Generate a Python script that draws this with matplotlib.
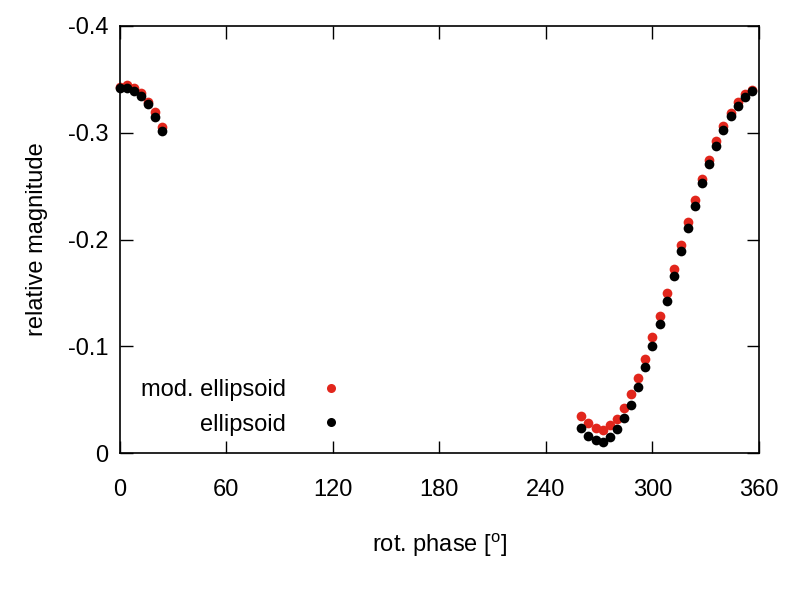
import matplotlib
matplotlib.use("Agg")
import matplotlib.pyplot as plt
from matplotlib.lines import Line2D

plt.rcParams['font.family'] = ['Liberation Sans', 'DejaVu Sans']
plt.rcParams['mathtext.fontset'] = 'custom'
plt.rcParams['mathtext.rm'] = 'Liberation Sans'

phase = [0, 4, 8, 12, 16, 20, 24,
         260, 264, 268, 272, 276, 280, 284, 288, 292, 296, 300, 304, 308,
         312, 316, 320, 324, 328, 332, 336, 340, 344, 348, 352, 356]

mod_ellipsoid = [-0.343, -0.345, -0.342, -0.337, -0.329, -0.319, -0.305,
                 -0.0346, -0.0277, -0.0237, -0.0212, -0.0259, -0.0315, -0.0418,
                 -0.0549, -0.0707, -0.0885, -0.1084, -0.1287, -0.1502, -0.1720,
                 -0.1944, -0.2165, -0.2371, -0.2567, -0.2748, -0.2919, -0.3062,
                 -0.3184, -0.3286, -0.3361, -0.3405]

ellipsoid = [-0.342, -0.3418, -0.339, -0.334, -0.327, -0.315, -0.302,
             -0.0231, -0.0162, -0.0121, -0.0106, -0.0147, -0.0221, -0.0324,
             -0.0451, -0.0620, -0.0801, -0.1000, -0.1209, -0.1427, -0.1661,
             -0.1888, -0.2109, -0.2315, -0.2526, -0.2707, -0.2875, -0.3025,
             -0.3153, -0.3249, -0.3336, -0.3393]

xticks = [0, 60, 120, 180, 240, 300, 360]
yticks = [0, -0.1, -0.2, -0.3, -0.4]
ytick_labels = ['0', '-0.1', '-0.2', '-0.3', '-0.4']

red = '#e2261c'

fig = plt.figure(figsize=(8, 6), dpi=100)
ax = fig.add_axes([119.5/800, 1 - 453/600, (759 - 119.5)/800, (453 - 26)/600])

ax.plot(phase, mod_ellipsoid, 'o', color=red, markersize=7, markeredgewidth=0,
        clip_on=False, label='mod. ellipsoid')
ax.plot(phase, ellipsoid, 'o', color='black', markersize=7, markeredgewidth=0,
        clip_on=False, label='ellipsoid')

ax.set_xlim(0, 360)
ax.set_ylim(0, -0.4)
ax.set_xticks(xticks)
ax.set_xticklabels([str(t) for t in xticks])
ax.set_yticks(yticks)
ax.set_yticklabels(ytick_labels)
ax.tick_params(direction='in', length=9, width=1, labelsize=17,
               top=True, right=True)
ax.tick_params(axis='x', pad=18.5)
ax.tick_params(axis='y', pad=8)
for s in ax.spines.values():
    s.set_linewidth(1.2)

ax.set_xlabel('rot. phase [$^{\\rm o}$]', fontsize=17, labelpad=22)
ax.set_ylabel('relative magnitude', fontsize=17, labelpad=14)

handles = [Line2D([], [], linestyle='none', marker='o', color=red, markersize=6.5, markeredgewidth=0),
           Line2D([], [], linestyle='none', marker='o', color='black', markersize=6.5, markeredgewidth=0)]
leg = ax.legend(handles, ['mod. ellipsoid', 'ellipsoid'], loc='lower left',
                bbox_to_anchor=(0.0, -0.009), frameon=False, fontsize=17,
                markerfirst=False, handletextpad=1.42, labelspacing=0.53,
                handlelength=1.0)
for t in leg.get_texts():
    t.set_ha('right')
    t.set_position((0, 0))
leg._legend_box.align = 'right'

fig.savefig('out.png', dpi=100)
